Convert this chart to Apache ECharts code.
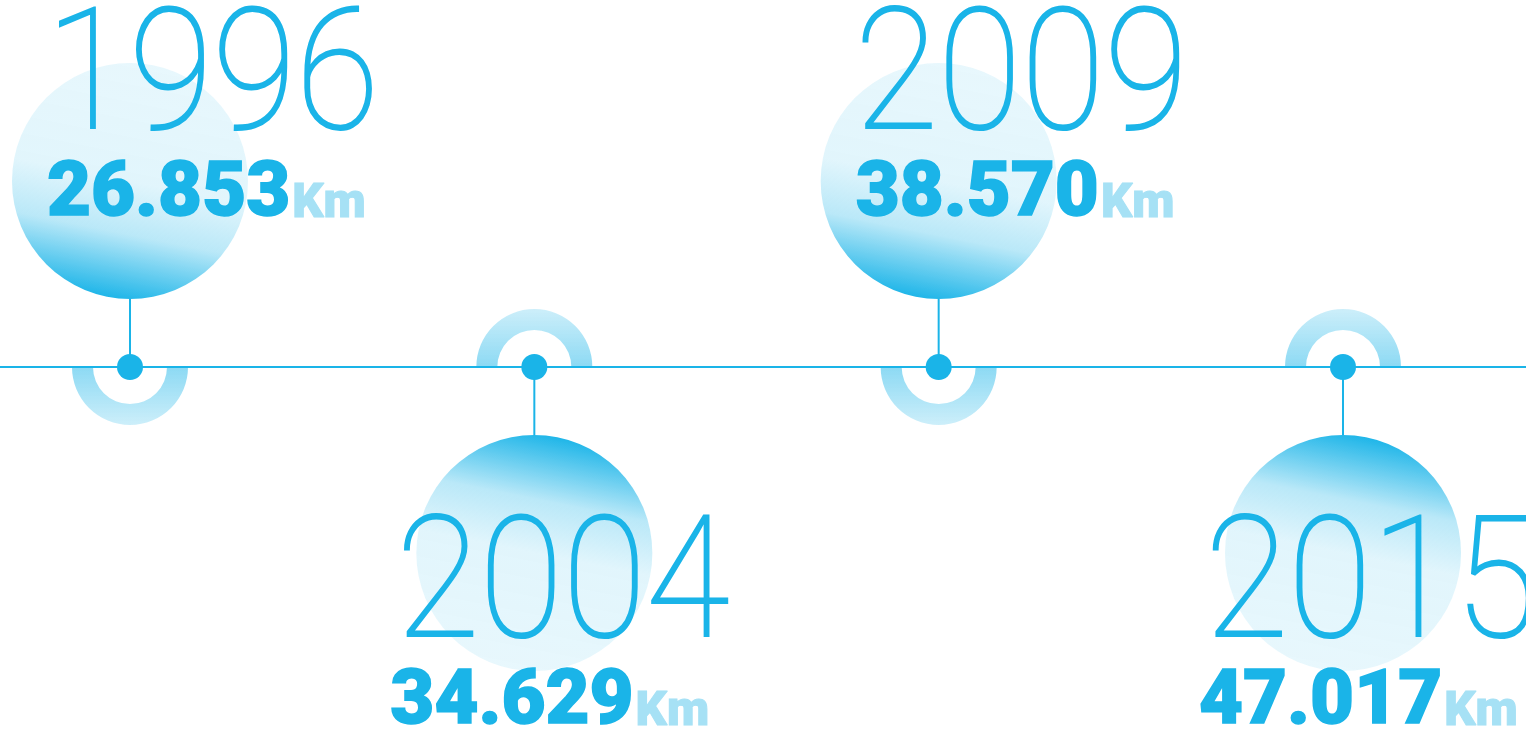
<!DOCTYPE html>
<html>
<head>
<meta charset="utf-8">
<script src="https://cdn.jsdelivr.net/npm/echarts@6/dist/echarts.min.js"></script>
<style>
  html, body { margin: 0; padding: 0; background: #fff; }
  #chart { width: 1526px; height: 736px; }
</style>
</head>
<body>
<div id="chart"></div>
<script>
const years = ['1996', '2004', '2009', '2015']
const lengths = [26.853, 34.629, 38.570, 47.017]
const unit = 'Km'

const MAIN = '#1ab4e8'
const UNIT_COLOR = '#a6e1f5'
const rgba = (a) => 'rgba(26,180,232,' + a + ')'

const chart = echarts.init(document.getElementById('chart'))

const bubbleStops = [
  { offset: 0, color: rgba(0.1) },
  { offset: 0.5, color: rgba(0.13) },
  { offset: 0.72, color: rgba(0.3) },
  { offset: 0.88, color: rgba(0.7) },
  { offset: 1, color: rgba(1) }
]

const renderItem = (params, api) => {
  const i = params.dataIndex
  const p = api.coord([api.value(0), 0])
  const cx = p[0]
  const cy = p[1]
  const up = i % 2 === 0
  const dir = up ? -1 : 1
  const R = 118
  const bigCy = cy + dir * 186
  const children = []

  // half ring around the dot, opposite side of the bubble
  children.push({
    type: 'sector',
    z2: 1,
    shape: {
      cx, cy, r: 58, r0: 37,
      startAngle: up ? 0 : Math.PI,
      endAngle: up ? Math.PI : Math.PI * 2
    },
    style: {
      fill: new echarts.graphic.LinearGradient(0, up ? 0 : 1, 0, up ? 1 : 0, [
        { offset: 0, color: rgba(0.5) },
        { offset: 1, color: rgba(0.22) }
      ])
    }
  })

  // bubble
  children.push({
    type: 'circle',
    z2: 2,
    shape: { cx, cy: bigCy, r: R },
    style: {
      fill: up
        ? new echarts.graphic.LinearGradient(0.6, 0, 0.4, 1, bubbleStops)
        : new echarts.graphic.LinearGradient(0.4, 1, 0.6, 0, bubbleStops)
    }
  })

  // connector
  children.push({
    type: 'line',
    z2: 3,
    shape: { x1: cx, y1: cy, x2: cx, y2: bigCy - dir * R },
    style: { stroke: MAIN, lineWidth: 2 }
  })

  if (i === 0) {
    children.push({
      type: 'line',
      z2: 4,
      shape: { x1: 0, y1: cy, x2: api.getWidth(), y2: cy },
      style: { stroke: MAIN, lineWidth: 2 }
    })
  }

  // dot
  children.push({
    type: 'circle',
    z2: 5,
    shape: { cx, cy, r: 13 },
    style: { fill: MAIN }
  })

  // year
  children.push({
    type: 'text',
    z2: 6,
    x: cx + (up ? -84 : -138),
    y: cy + (up ? -281 : 227),
    scaleX: 0.9,
    style: {
      text: years[i],
      fontFamily: 'Roboto',
      fontWeight: 100,
      fontSize: 169,
      fill: MAIN,
      stroke: MAIN,
      lineWidth: 2,
      verticalAlign: 'middle',
      align: 'left'
    }
  })

  // length
  children.push({
    type: 'text',
    z2: 6,
    x: cx + (up ? -83 : -144),
    y: cy + (up ? -171 : 337),
    style: {
      text: '{v|' + api.value(1).toFixed(3) + '}{u|' + unit + '}',
      verticalAlign: 'middle',
      align: 'left',
      rich: {
        v: { fontFamily: 'Roboto', fontWeight: 900, fontSize: 76, fill: MAIN, stroke: MAIN, lineWidth: 1.5 },
        u: { fontFamily: 'Roboto', fontWeight: 900, fontSize: 49, fill: UNIT_COLOR, stroke: UNIT_COLOR, lineWidth: 1, padding: [17, 0, 0, 2] }
      }
    }
  })

  return { type: 'group', children }
}

chart.setOption({
  animation: false,
  grid: { left: 130, right: 183, top: 0, bottom: 2 },
  xAxis: { type: 'category', data: years, boundaryGap: false, show: false },
  yAxis: { type: 'value', min: -1, max: 1, show: false },
  series: [{
    type: 'custom',
    renderItem,
    data: years.map((y, i) => [i, lengths[i]]),
    encode: { x: 0 },
    clip: false
  }]
})
</script>
</body>
</html>
